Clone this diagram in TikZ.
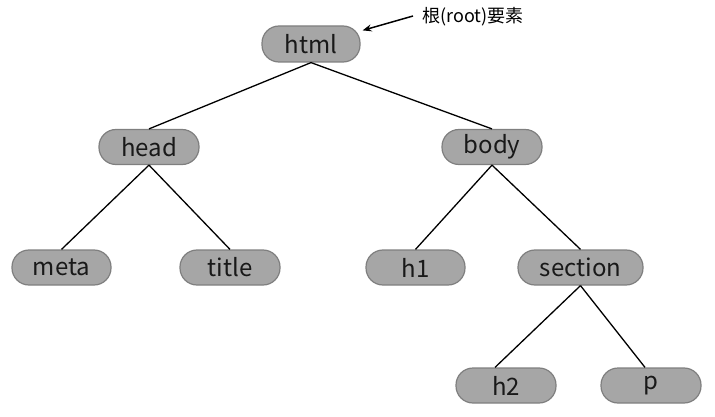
\documentclass[tikz,border=0pt]{standalone}
\usepackage{fontspec}
\setmainfont{Noto Sans CJK JP}
\usetikzlibrary{arrows.meta}
\definecolor{nodefill}{HTML}{A6A6A6}
\definecolor{nodeline}{HTML}{7F7F7F}
\begin{document}
\begin{tikzpicture}[x=1pt,y=-1pt,
  tagbox/.style={draw=nodeline, line width=1.2pt, fill=nodefill, rounded corners=17pt,
    minimum width=100pt, minimum height=35pt, inner sep=0pt,
    font=\fontsize{24}{26}\selectfont, text=black!90},
  edge/.style={draw=black, line width=1.3pt}]
\useasboundingbox (0,0) rectangle (715,417);
\node[tagbox, minimum width=98pt, minimum height=36pt] (html) at (311,44) {html};
\node[tagbox] (head) at (149,147) {head};
\node[tagbox] (body) at (492,147) {body};
\node[tagbox, minimum width=99pt] (meta) at (61.5,267.5) {meta};
\node[tagbox] (title) at (230,267.5) {title};
\node[tagbox, minimum width=99pt] (h1) at (415.5,267.5) {h1};
\node[tagbox, minimum width=125pt] (section) at (580.5,267.5) {section};
\node[tagbox] (h2) at (506,385.5) {h2};
\node[tagbox] (p) at (651,385.5) {p};
\node[anchor=west, inner sep=0pt, font=\fontsize{18}{20}\selectfont] (label) at (422,17) {根(root)要素};
\coordinate (tail) at (413,16);
\draw[edge] (html.south) -- (head.north);
\draw[edge] (html.south) -- (body.north);
\draw[edge] (head.south) -- (meta.north);
\draw[edge] (head.south) -- (title.north);
\draw[edge] (body.south) -- (h1.north);
\draw[edge] (body.south) -- (section.north);
\draw[edge] (section.south) -- ([xshift=-11pt]h2.north);
\draw[edge] (section.south) -- ([xshift=-6pt]p.north);
\draw[line width=1.5pt, -{Stealth[length=9pt,width=7pt]}] (tail) -- ([xshift=2pt,yshift=-5pt]html.north east);
\end{tikzpicture}
\end{document}
